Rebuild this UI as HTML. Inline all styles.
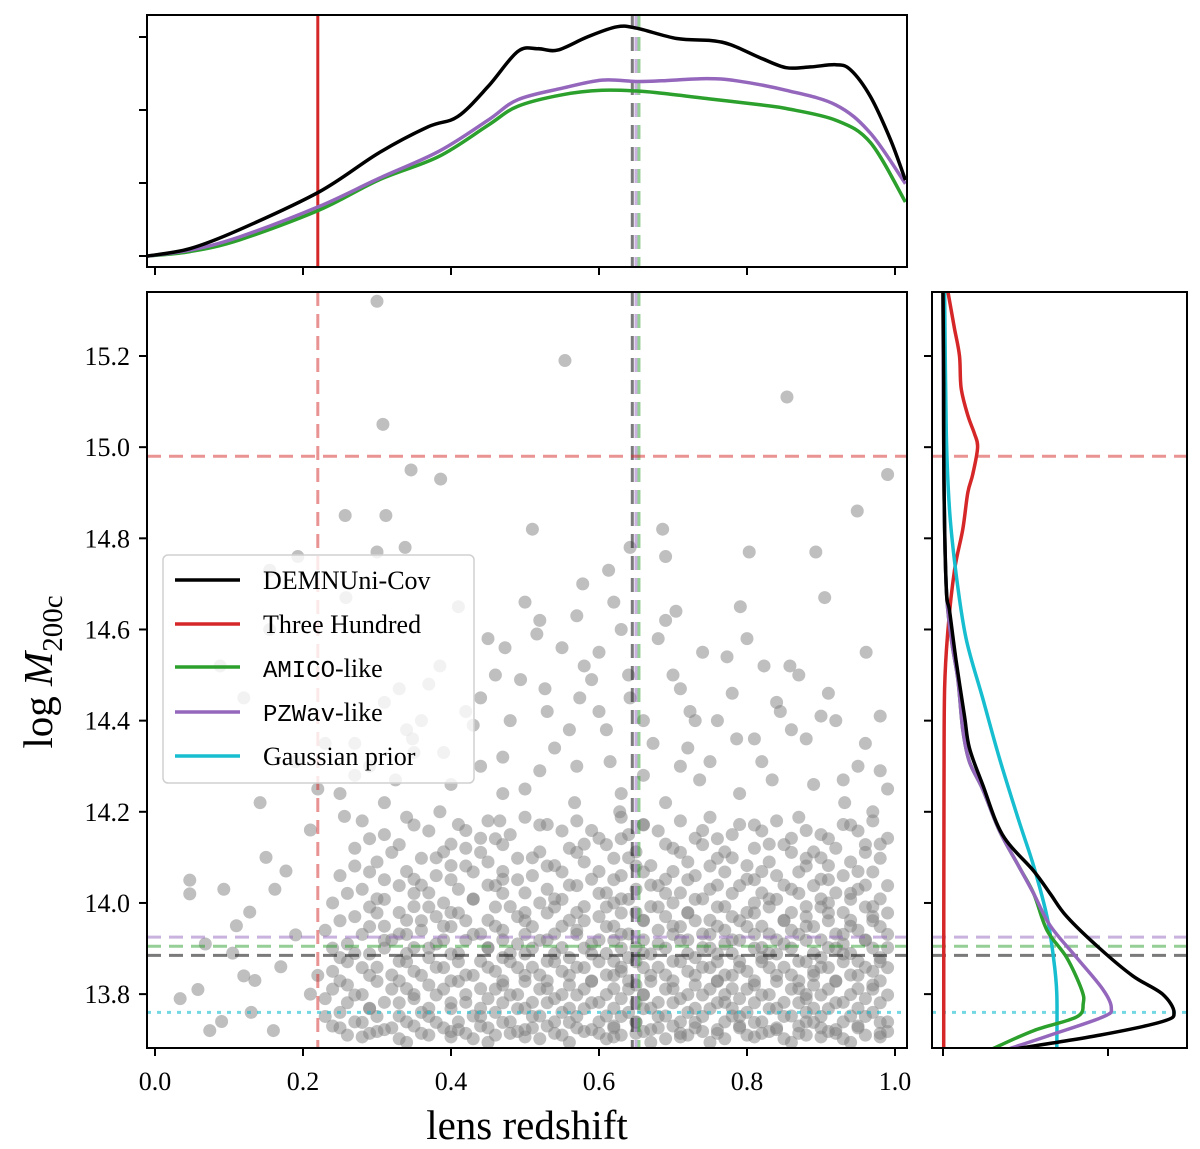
<!DOCTYPE html>
<html><head><meta charset="utf-8"><style>
html,body{margin:0;padding:0;background:#fff}
svg{display:block}
text{font-family:"Liberation Serif",serif;fill:#000}
.mono{font-family:"Liberation Mono",monospace}
</style></head><body>
<svg id="fig" width="1200" height="1149" viewBox="0 0 1200 1149" xmlns="http://www.w3.org/2000/svg">
<defs>
<clipPath id="cMain"><rect x="147" y="292" width="760" height="756"/></clipPath>
<clipPath id="cTop"><rect x="147" y="15" width="760" height="252"/></clipPath>
<clipPath id="cRight"><rect x="932" y="292" width="255" height="756"/></clipPath>
</defs>
<g id="main" clip-path="url(#cMain)"></g>
<g id="top" clip-path="url(#cTop)"></g>
<g id="right" clip-path="url(#cRight)"></g>
<g id="axes"></g>
<g id="legend">
<rect x="163" y="555" width="311" height="228" rx="5" fill="#fff" fill-opacity="0.8" stroke="#d0d0d0" stroke-width="1.5"/>
<line x1="175" y1="580" x2="240" y2="580" stroke="#000" stroke-width="3.5"/>
<text x="263" y="589" font-size="26">DEMNUni-Cov</text>
<line x1="175" y1="624" x2="240" y2="624" stroke="#d62728" stroke-width="3.5"/>
<text x="263" y="633" font-size="26">Three Hundred</text>
<line x1="175" y1="667" x2="240" y2="667" stroke="#2ca02c" stroke-width="3.5"/>
<text x="263" y="677" font-size="26"><tspan class="mono" font-size="24">AMICO</tspan>-like</text>
<line x1="175" y1="712" x2="240" y2="712" stroke="#9467bd" stroke-width="3.5"/>
<text x="263" y="721" font-size="26"><tspan class="mono" font-size="24">PZWav</tspan>-like</text>
<line x1="175" y1="756" x2="240" y2="756" stroke="#17becf" stroke-width="3.5"/>
<text x="263" y="765" font-size="26">Gaussian prior</text>
</g>
<text x="527" y="1139" font-size="41" text-anchor="middle">lens redshift</text>
<text transform="translate(52,672) rotate(-90)" font-size="41" text-anchor="middle">log <tspan font-style="italic">M</tspan><tspan font-size="29" dy="10">200c</tspan></text>
</svg>
<script>
const xTicks=[0.0,0.2,0.4,0.6,0.8,1.0];
const xTickLabels=["0.0","0.2","0.4","0.6","0.8","1.0"];
const yTicks=[13.8,14.0,14.2,14.4,14.6,14.8,15.0,15.2];
const yTickLabels=["13.8","14.0","14.2","14.4","14.6","14.8","15.0","15.2"];
const topYTicks=[0,1,2,3];
const rightXTicks=[0,1];
const topZ_black=[-0.01,0.047,0.114,0.222,0.302,0.369,0.409,0.450,0.490,0.517,0.544,0.584,0.624,0.651,0.705,0.752,0.779,0.819,0.853,0.886,0.920,0.940,0.967,0.994,1.014];
const topD_black=[0.00,0.10,0.36,0.88,1.41,1.77,1.91,2.32,2.80,2.84,2.82,3.00,3.14,3.12,2.98,2.95,2.89,2.71,2.58,2.59,2.62,2.55,2.18,1.59,1.04];
const topZ_purple=[-0.01,0.047,0.114,0.222,0.302,0.383,0.450,0.490,0.551,0.604,0.651,0.685,0.745,0.786,0.853,0.920,0.967,1.014];
const topD_purple=[0.00,0.08,0.26,0.68,1.06,1.43,1.86,2.14,2.30,2.41,2.39,2.40,2.43,2.40,2.27,2.07,1.68,0.99];
const topZ_green=[-0.01,0.047,0.114,0.222,0.302,0.383,0.450,0.490,0.551,0.604,0.651,0.685,0.752,0.819,0.853,0.920,0.967,1.014];
const topD_green=[0.00,0.06,0.22,0.63,1.04,1.36,1.79,2.05,2.21,2.27,2.26,2.23,2.15,2.07,2.02,1.86,1.55,0.74];
const rM_black=[15.34,15.14,14.92,14.69,14.64,14.53,14.41,14.34,14.26,14.15,14.07,14.02,13.97,13.90,13.84,13.80,13.76,13.74,13.71,13.68];
const rD_black=[0,0.004,0.006,0.02,0.04,0.08,0.13,0.16,0.24,0.36,0.55,0.65,0.75,0.95,1.15,1.33,1.40,1.33,0.95,0.44];
const rM_green=[15.34,14.92,14.69,14.58,14.49,14.38,14.31,14.25,14.16,14.08,14.02,13.94,13.88,13.81,13.78,13.75,13.72,13.68];
const rD_green=[0,0.006,0.02,0.05,0.09,0.12,0.16,0.24,0.34,0.46,0.55,0.63,0.75,0.84,0.85,0.81,0.55,0.30];
const rM_purple=[15.34,14.92,14.69,14.58,14.49,14.38,14.31,14.25,14.16,14.08,14.02,13.95,13.88,13.81,13.77,13.75,13.71,13.68];
const rD_purple=[0,0.006,0.02,0.05,0.09,0.12,0.16,0.24,0.34,0.46,0.55,0.65,0.81,0.97,1.02,0.97,0.65,0.40];
const rM_cyan=[15.34,15.03,14.86,14.72,14.58,14.45,14.32,14.18,14.08,13.97,13.88,13.80,13.68];
const rD_cyan=[0.01,0.02,0.04,0.08,0.14,0.24,0.34,0.46,0.55,0.63,0.67,0.69,0.69];
const rM_red=[15.34,15.26,15.20,15.13,15.07,15.03,15.00,14.94,14.90,14.82,14.73,14.60,14.47,14.25,13.68];
const rD_red=[0.03,0.07,0.10,0.11,0.15,0.19,0.21,0.18,0.15,0.12,0.07,0.03,0.01,0.006,0.004];
const vRed=0.22, vGrey=0.645, vPurple=0.650, vGreen=0.654;
const hRed=14.98, hPurple=13.925, hGreen=13.905, hGrey=13.885, hCyan=13.76;
const sparsePts=[[.30,15.32],[.554,15.19],[.854,15.11],[.308,15.05],[.99,14.94],[.346,14.95],[.386,14.93],[.51,14.82],[.949,14.86],[.312,14.85],[.257,14.85],[.338,14.78],[.30,14.77],[.893,14.77],[.803,14.77],[.642,14.78],[.69,14.76],[.686,14.82],[.193,14.76],[.613,14.73],[.578,14.70],[.41,14.65],[.905,14.67],[.791,14.65],[.704,14.64],[.155,14.73],[.258,14.67],[.155,14.60],[.473,14.56],[.516,14.59],[.961,14.55],[.773,14.54],[.823,14.52],[.858,14.52],[.385,14.52],[.33,14.47],[.494,14.49],[.527,14.47],[.088,14.52],[.12,14.45],[.642,14.45],[.723,14.42],[.90,14.41],[.98,14.41],[.845,14.42],[.43,14.39],[.348,14.36],[.574,14.45],[.60,14.55],[.23,14.35],[.19,14.31],[.786,14.36],[.673,14.35],[.615,14.31],[.47,14.32],[.39,14.33],[.142,14.22],[.98,14.29],[.834,14.27],[.736,14.27],[.52,14.29],[.325,14.27],[.932,14.22],[.567,14.22],[.628,14.20],[.466,14.18],[.385,14.20],[.25,14.24],[.256,14.19],[.21,14.16],[.047,14.05],[.047,14.02],[.093,14.03],[.128,13.98],[.162,14.03],[.177,14.07],[.068,13.91],[.105,13.89],[.058,13.81],[.074,13.72],[.034,13.79],[.135,13.83],[.52,14.62],[.56,14.38],[.44,14.45],[.70,14.50],[.76,14.40],[.62,14.66],[.45,14.58],[.58,14.52],[.66,14.28],[.72,14.34],[.88,14.36],[.95,14.30],[.36,14.40],[.29,14.30],[.54,14.34],[.82,14.31],[.91,14.46],[.40,14.26],[.48,14.40],[.68,14.58],[.15,14.10],[.11,13.95],[.19,13.93],[.13,13.76],[.17,13.86],[.09,13.74],[.21,13.80],[.16,13.72],[.12,13.84],
[.50,14.66],[.55,14.56],[.57,14.63],[.59,14.49],[.63,14.60],[.66,14.40],[.69,14.62],[.71,14.47],[.74,14.55],[.78,14.46],[.80,14.58],[.84,14.44],[.87,14.50],[.92,14.40],[.96,14.35],[.99,14.25],[.46,14.50],[.42,14.42],[.37,14.48],[.34,14.38],[.31,14.44],[.27,14.35],[.53,14.42],[.61,14.38],[.64,14.50],[.75,14.31],[.79,14.24],[.86,14.38],[.93,14.27],[.97,14.20],[.44,14.30],[.50,14.25],[.57,14.30],[.63,14.24],[.69,14.22],[.73,14.40],[.81,14.36],[.89,14.26],[.35,14.33],[.31,14.22],[.27,14.28],[.22,14.25],[.47,14.24],[.60,14.42],[.71,14.30]];
const denseRows=[
[14.18,.28,.34,.41,.45,.50,.53,.57,.63,.66,.71,.75,.79,.84,.87,.93,.97],
[14.15,.31,.37,.44,.48,.55,.60,.64,.68,.73,.78,.82,.86,.90,.95,.99],
[14.12,.27,.33,.39,.42,.47,.52,.56,.61,.65,.70,.74,.77,.81,.85,.89,.92,.96],
[14.09,.30,.36,.40,.45,.49,.54,.58,.62,.67,.72,.76,.80,.83,.88,.91,.94,.98],
[14.06,.25,.29,.35,.38,.43,.47,.51,.55,.59,.63,.66,.69,.73,.77,.80,.84,.87,.90,.93,.97],
[14.03,.28,.33,.37,.41,.46,.50,.53,.57,.61,.65,.68,.71,.75,.79,.82,.86,.89,.92,.95,.99],
[14.00,.24,.31,.35,.39,.43,.48,.52,.55,.58,.62,.64,.67,.70,.73,.77,.81,.84,.88,.91,.94,.97],
[13.97,.27,.30,.34,.38,.41,.45,.49,.53,.56,.60,.63,.66,.69,.72,.75,.78,.81,.85,.88,.91,.94,.97,.99],
[13.94,.23,.29,.33,.36,.40,.44,.47,.51,.54,.57,.61,.64,.68,.71,.74,.77,.80,.83,.86,.89,.92,.95,.98],
[13.91,.26,.31,.35,.38,.42,.45,.49,.52,.55,.59,.62,.65,.68,.71,.74,.77,.79,.82,.85,.88,.91,.93,.96,.99],
[13.88,.25,.29,.33,.37,.40,.44,.47,.50,.53,.56,.59,.62,.64,.67,.70,.73,.76,.79,.82,.84,.87,.90,.93,.95,.98],
[13.85,.24,.28,.32,.35,.39,.42,.46,.49,.52,.55,.58,.61,.63,.66,.69,.72,.75,.77,.80,.83,.86,.89,.91,.94,.97,.99],
[13.82,.26,.30,.34,.37,.41,.44,.47,.50,.53,.56,.59,.62,.65,.67,.70,.73,.76,.78,.81,.84,.87,.89,.92,.95,.97],
[13.79,.23,.27,.31,.35,.38,.42,.45,.48,.51,.54,.57,.60,.63,.66,.68,.71,.74,.77,.79,.82,.85,.88,.90,.93,.96,.99],
[13.76,.25,.29,.33,.36,.40,.43,.46,.49,.52,.55,.58,.61,.64,.66,.69,.72,.75,.78,.80,.83,.86,.88,.91,.94,.97],
[13.73,.24,.28,.31,.35,.38,.41,.44,.47,.50,.53,.56,.59,.62,.65,.67,.70,.73,.76,.79,.81,.84,.87,.89,.92,.95,.98],
[13.71,.26,.30,.33,.37,.40,.43,.46,.49,.52,.55,.58,.61,.63,.66,.69,.72,.74,.77,.80,.83,.85,.88,.91,.93,.96,.99]
];
const denseRows2=[
[14.165,.35,.42,.52,.59,.66,.74,.81,.88,.94],
[14.135,.29,.40,.46,.58,.63,.69,.76,.83,.91,.98],
[14.105,.32,.38,.44,.51,.57,.64,.71,.78,.86,.90,.96],
[14.075,.27,.34,.42,.47,.53,.60,.65,.70,.75,.82,.88,.95],
[14.045,.31,.36,.40,.45,.49,.56,.62,.67,.72,.76,.81,.85,.91,.96],
[14.015,.26,.30,.35,.43,.47,.54,.60,.63,.69,.74,.78,.83,.87,.90,.94,.98],
[13.985,.29,.33,.37,.40,.46,.50,.54,.57,.61,.65,.68,.72,.76,.80,.83,.86,.90,.93,.96],
[13.955,.25,.31,.36,.39,.42,.46,.50,.55,.58,.62,.66,.70,.73,.76,.79,.82,.85,.88,.91,.94,.97],
[13.925,.28,.32,.34,.39,.43,.47,.50,.53,.57,.60,.63,.66,.70,.72,.75,.78,.81,.84,.87,.90,.93,.96,.99],
[13.895,.24,.27,.31,.34,.37,.41,.45,.48,.51,.54,.58,.61,.63,.66,.69,.72,.75,.78,.81,.83,.86,.89,.92,.94,.97],
[13.865,.26,.30,.34,.38,.41,.45,.48,.51,.54,.57,.60,.63,.65,.68,.71,.74,.76,.79,.82,.85,.88,.90,.93,.96,.98],
[13.835,.22,.25,.29,.33,.36,.40,.43,.47,.50,.53,.56,.59,.62,.64,.67,.70,.73,.76,.78,.81,.84,.87,.89,.92,.95,.98],
[13.805,.24,.28,.32,.35,.39,.42,.46,.49,.52,.55,.58,.61,.64,.66,.69,.72,.75,.77,.80,.83,.86,.88,.91,.94,.97],
[13.775,.26,.29,.33,.37,.40,.44,.47,.50,.53,.56,.59,.62,.65,.67,.70,.73,.76,.78,.81,.84,.87,.89,.92,.95,.98],
[13.745,.23,.27,.30,.34,.37,.41,.44,.48,.51,.54,.57,.60,.63,.65,.68,.71,.74,.77,.79,.82,.85,.88,.90,.93,.96,.99],
[13.72,.25,.29,.32,.36,.39,.42,.45,.48,.51,.54,.57,.60,.62,.65,.68,.71,.73,.76,.79,.82,.84,.87,.90,.92,.95,.98],
[13.70,.28,.34,.40,.45,.50,.56,.62,.67,.71,.75,.81,.86,.90,.94,.98]
];

const NS="http://www.w3.org/2000/svg";
const X0=147,X1=907,Y0=292,Y1=1048;
const xs=z=>155+z*740;
const ys=m=>356+(15.2-m)*455.8;
const ty=d=>256-d*73;
const rx=d=>943+d*165;
function mk(tag,attrs,parent){const e=document.createElementNS(NS,tag);for(const k in attrs)e.setAttribute(k,attrs[k]);parent.appendChild(e);return e;}
const gMain=document.getElementById('main'),gTop=document.getElementById('top'),gRight=document.getElementById('right'),gAx=document.getElementById('axes');

const allPts=sparsePts.slice();
denseRows.forEach(r=>{for(let i=1;i<r.length;i++)allPts.push([r[i],r[0]+((i%3)-1)*0.008]);});
denseRows2.forEach(r=>{for(let i=1;i<r.length;i++)allPts.push([r[i],r[0]+((i%2)*2-1)*0.006]);});
allPts.forEach((p,i)=>{
 const c=mk('circle',{cx:xs(p[0]),cy:ys(p[1]),r:6.5,fill:'#808080','fill-opacity':0.5},gMain);
 
 
});

function vline(g,x,ya,yb,col,op,dash,name){const l=mk('line',{x1:x,x2:x,y1:ya,y2:yb,stroke:col,'stroke-opacity':op,'stroke-width':3,'stroke-dasharray':dash},g);}
function hline(g,y,xa,xb,col,op,dash,name){const l=mk('line',{x1:xa,x2:xb,y1:y,y2:y,stroke:col,'stroke-opacity':op,'stroke-width':3,'stroke-dasharray':dash},g);}
const D='14,8';
vline(gMain,xs(vRed),Y0,Y1,'#d62728',0.5,D,'three-hundred-median-z');
vline(gMain,xs(vGreen),Y0,Y1,'#2ca02c',0.5,D,'amico-median-z');
vline(gMain,xs(vPurple),Y0,Y1,'#9467bd',0.5,D,'pzwav-median-z');
vline(gMain,xs(vGrey),Y0,Y1,'#222',0.6,D,'demnuni-median-z');
[[hRed,'#d62728',0.5,D,'three-hundred-median-mass'],[hPurple,'#9467bd',0.5,D,'pzwav-median-mass'],[hGreen,'#2ca02c',0.5,D,'amico-median-mass'],[hGrey,'#222',0.6,D,'demnuni-median-mass'],[hCyan,'#17becf',0.6,'4,6','gaussian-prior-mass']].forEach(h=>{
 hline(gMain,ys(h[0]),X0,X1,h[1],h[2],h[3],h[4]);
 hline(gRight,ys(h[0]),932,1187,h[1],h[2],h[3],h[4]+'-right');
});
vline(gTop,xs(vRed),15,267,'#d62728',1,'none','three-hundred-z');
vline(gTop,xs(vGreen),15,267,'#2ca02c',0.5,D,'amico-median-z-top');
vline(gTop,xs(vPurple),15,267,'#9467bd',0.5,D,'pzwav-median-z-top');
vline(gTop,xs(vGrey),15,267,'#222',0.6,D,'demnuni-median-z-top');
function smoothPath(px,py){
 let d='M'+px[0].toFixed(1)+','+py[0].toFixed(1);
 for(let i=0;i<px.length-1;i++){
  const i0=Math.max(0,i-1),i3=Math.min(px.length-1,i+2);
  const c1x=px[i]+(px[i+1]-px[i0])/6,c1y=py[i]+(py[i+1]-py[i0])/6;
  const c2x=px[i+1]-(px[i3]-px[i])/6,c2y=py[i+1]-(py[i3]-py[i])/6;
  d+='C'+c1x.toFixed(1)+','+c1y.toFixed(1)+' '+c2x.toFixed(1)+','+c2y.toFixed(1)+' '+px[i+1].toFixed(1)+','+py[i+1].toFixed(1);
 }
 return d;
}
function curve(g,px,py,col,name){const p=mk('path',{d:smoothPath(px,py),fill:'none',stroke:col,'stroke-width':3.5,'stroke-linejoin':'round'},g);}
curve(gTop,topZ_green.map(xs),topD_green.map(ty),'#2ca02c','amico-z-density');
curve(gTop,topZ_purple.map(xs),topD_purple.map(ty),'#9467bd','pzwav-z-density');
curve(gTop,topZ_black.map(xs),topD_black.map(ty),'#000','demnuni-z-density');
curve(gRight,rD_red.map(rx),rM_red.map(ys),'#d62728','three-hundred-mass-density');
curve(gRight,rD_cyan.map(rx),rM_cyan.map(ys),'#17becf','gaussian-prior-mass-density');
curve(gRight,rD_green.map(rx),rM_green.map(ys),'#2ca02c','amico-mass-density');
curve(gRight,rD_purple.map(rx),rM_purple.map(ys),'#9467bd','pzwav-mass-density');
curve(gRight,rD_black.map(rx),rM_black.map(ys),'#000','demnuni-mass-density');

[[147,292,760,756,'main-frame'],[147,15,760,252,'top-frame'],[932,292,255,756,'right-frame']].forEach(f=>{
 const r=mk('rect',{x:f[0],y:f[1],width:f[2],height:f[3],fill:'none',stroke:'#000','stroke-width':2},gAx);
 
});
function tick(x1,y1,x2,y2,name){const l=mk('line',{x1:x1,y1:y1,x2:x2,y2:y2,stroke:'#000','stroke-width':2},gAx);}
xTicks.forEach((v,i)=>{
 const x=xs(v);
 tick(x,1048,x,1056,'x-tick');
 tick(x,267,x,275,'top-x-tick');
 const t=mk('text',{x:x,y:1090,'font-size':26,'text-anchor':'middle'},gAx);t.textContent=xTickLabels[i];
 
});
yTicks.forEach((v,i)=>{
 const y=ys(v);
 tick(139,y,147,y,'y-tick');
 tick(924,y,932,y,'right-y-tick');
 const t=mk('text',{x:130,y:y+9,'font-size':26,'text-anchor':'end'},gAx);t.textContent=yTickLabels[i];
 
});
topYTicks.forEach(v=>tick(139,ty(v),147,ty(v),'top-y-tick'));
rightXTicks.forEach(v=>tick(rx(v),1048,rx(v),1056,'right-x-tick'));
</script>
</body></html>
